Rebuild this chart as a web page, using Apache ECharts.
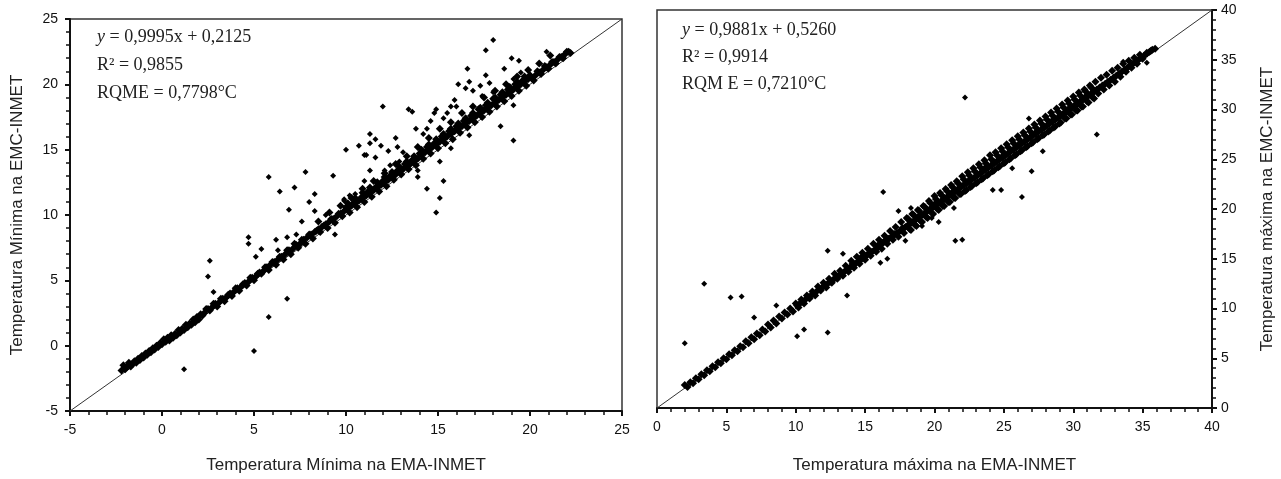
<!DOCTYPE html>
<html><head><meta charset="utf-8">
<script src="https://cdn.jsdelivr.net/npm/echarts@6/dist/echarts.min.js"></script>
<style>html,body{margin:0;padding:0;background:#fff}#c{width:1281px;height:479px}</style>
</head><body><div id="c"></div>
<script>
// ---------- DATA ----------
const minAxisTicks = [-5, 0, 5, 10, 15, 20, 25];
const maxAxisTicks = [0, 5, 10, 15, 20, 25, 30, 35, 40];
const minIdentity = [[-5, -5], [25, 25]];
const maxIdentity = [[0, 0], [40, 40]];

const minBand = [
[-2.2,-1.9],[-2.1,-1.5],[-2.0,-1.8],[-1.9,-1.6],[-1.8,-1.3],[-1.7,-1.6],[-1.6,-1.4],[-1.5,-1.2],[-1.4,-1.3],[-1.3,-1.0],
[-1.2,-1.1],[-1.1,-0.8],[-1.0,-0.9],[-0.9,-0.6],[-0.8,-0.7],[-0.7,-0.4],[-0.6,-0.5],[-0.5,-0.2],[-0.4,-0.3],[-0.3,0.0],
[-0.2,-0.1],[-0.1,0.2],[0.0,0.1],[0.1,0.5],[0.2,0.3],[0.3,0.6],[0.4,0.4],[0.5,0.8],[0.6,0.6],[0.7,0.9],
[0.8,0.8],[0.9,1.2],[1.0,1.0],[1.1,1.3],[1.2,1.2],[1.3,1.6],[1.4,1.4],[1.5,1.7],[1.6,1.6],[1.7,2.0],
[1.8,1.8],[1.9,2.2],[2.0,2.0],[2.2,2.3],[2.4,2.8],[2.6,2.7],[2.8,3.2],[3.0,3.0],[3.2,3.6],[3.4,3.4],
[3.6,3.9],[3.8,3.8],[4.0,4.4],[4.2,4.2],[4.4,4.7],[4.6,4.6],[4.8,5.2],[5.0,5.0],[5.2,5.5],[5.4,5.5],
[5.6,6.0],[5.8,5.8],[6.0,6.4],[6.2,6.2],[6.4,6.8],[6.6,6.6],[6.8,7.3],[7.0,7.0],[7.2,7.8],[7.4,7.5],
[7.6,8.1],[7.8,7.8],[8.0,8.5],[8.2,8.2],[8.4,8.8],[8.6,8.7],[8.8,9.2],[9.0,9.0],[9.2,9.7],[9.4,9.4],
[9.6,10.1],[9.8,9.9],[10.0,10.6],[10.2,10.2],[10.4,10.9],[10.6,10.6],[10.8,11.3],[11.0,11.0],[11.2,11.8],[11.4,11.4],
[11.6,12.1],[11.8,11.8],[12.0,12.6],[12.2,12.2],[12.4,13.0],[12.6,12.7],[12.8,13.4],[13.0,13.1],[13.2,13.9],[13.4,13.5],
[13.6,14.2],[13.8,13.8],[14.0,14.7],[14.2,14.3],[14.4,15.2],[14.6,14.7],[14.8,15.5],[15.0,15.1],[15.2,16.0],[15.4,15.5],
[15.6,16.4],[15.8,15.8],[16.0,16.8],[16.2,16.3],[16.4,17.2],[16.6,16.7],[16.8,17.6],[17.0,17.1],[17.2,18.1],[17.4,17.5],
[17.6,18.4],[17.8,17.9],[18.0,18.9],[18.2,18.3],[18.4,19.2],[18.6,18.7],[18.8,19.6],[19.0,19.1],[19.2,20.0],[19.4,19.5],
[19.6,20.3],[19.8,19.9],[20.0,20.7],[20.2,20.3],[20.4,21.0],[20.6,20.8],[20.8,21.4],[21.0,21.2],[21.2,21.7],[21.4,21.6],
[21.6,22.1],[21.8,22.0],[22.0,22.5],[22.2,22.4],
[8.5,9.5],[9.1,10.2],[9.7,10.7],[10.3,11.3],[10.9,12.0],[11.5,12.6],[12.1,13.2],[12.7,13.9],[13.3,14.5],[13.9,15.2],
[14.5,15.9],[15.1,16.6],[15.7,17.1],[16.3,17.8],[16.9,18.3],[17.5,19.0],[18.1,19.5],[18.7,20.0],[19.3,20.6],[19.9,21.1],
[20.5,21.6],[21.1,22.2]
];
const minBandMid = [
[2.1,2.4],[2.3,2.5],[2.5,2.8],[2.7,2.9],[2.9,3.2],[3.1,3.3],[3.3,3.6],[3.5,3.7],[3.7,4.0],[3.9,4.1],
[4.1,4.4],[4.3,4.5],[4.5,4.8],[4.7,4.9],[4.9,5.2],[5.1,5.3],[5.3,5.6],[5.5,5.7],[5.7,6.0],[5.9,6.2],
[6.1,6.4],[6.3,6.6],[6.5,6.8],[6.7,7.0],[6.9,7.3],[7.1,7.4],[7.3,7.7],[7.5,7.8],[7.7,8.1],[7.9,8.3],
[8.1,8.5],[8.3,8.7],[8.5,8.9],[8.7,9.1],[8.9,9.3],[9.1,9.5],[9.3,9.7],[9.5,9.9],[9.7,10.1],[9.9,10.3],
[10.1,10.5],[10.3,10.7],[10.5,10.9],[10.7,11.1],[10.9,11.3],[11.1,11.5],[11.3,11.7],[11.5,11.9],[11.7,12.1],[11.9,12.3],
[12.1,12.5],[12.3,12.7],[12.5,12.9],[12.7,13.1],[12.9,13.3],[13.1,13.5],[13.3,13.7],[13.5,13.9],[13.7,14.1],[13.9,14.3],
[14.1,14.6],[14.3,14.8],[14.5,15.0],[14.7,15.2],[14.9,15.4],[15.1,15.6],[15.3,15.8],[15.5,16.0],[15.7,16.2],[15.9,16.4],
[16.1,16.6],[16.3,16.8],[16.5,17.0],[16.7,17.2],[16.9,17.4],[17.1,17.6],[17.3,17.8],[17.5,18.0],[17.7,18.2],[17.9,18.4],
[18.1,18.6],[18.3,18.8],[18.5,19.0],[18.7,19.2],[18.9,19.4],[19.1,19.6],[19.3,19.8],[19.5,20.0],[19.7,20.2],[19.9,20.4],
[20.1,20.5],[20.3,20.7],[20.5,20.9],[20.7,21.1],[20.9,21.3],[21.1,21.5],[21.3,21.7],[21.5,21.9],[21.7,22.1],[21.9,22.3],
[22.1,22.5],
[10.1,10.9],[10.5,11.3],[10.9,11.7],[11.3,12.1],[11.7,12.5],[12.1,12.9],[12.5,13.3],[12.9,13.7],[13.3,14.1],[13.7,14.5],
[14.1,15.0],[14.5,15.4],[14.9,15.8],[15.3,16.2],[15.7,16.6],[16.1,17.0],[16.5,17.4],[16.9,17.8],[17.3,18.2],[17.7,18.6],
[18.1,19.0],[18.5,19.4],[18.9,19.8],[19.3,20.2],[19.7,20.6]
];
const minOutliers = [
[1.2,-1.8],[5.0,-0.4],[5.8,2.2],[6.8,3.6],[2.6,6.5],[2.5,5.3],[2.8,4.1],[4.7,7.8],[4.7,8.3],[5.4,7.4],
[5.1,6.8],[6.2,8.1],[6.8,8.3],[7.3,8.5],[6.3,7.3],[5.8,12.9],[6.4,11.8],[7.2,12.1],[7.8,13.3],[6.9,10.4],
[7.6,9.5],[8.0,11.0],[8.3,10.3],[8.3,11.6],[9.3,13.0],[9.4,8.5],[11.0,12.6],[10.0,15.0],[11.0,14.6],[9.9,11.2],
[8.9,10.0],[18.0,23.4],[17.6,22.6],[19.0,22.0],[19.4,21.8],[20.9,22.5],[16.6,21.2],[17.6,20.7],[18.6,21.2],[19.5,20.9],
[16.1,20.0],[16.7,20.2],[16.5,19.7],[17.3,19.9],[16.9,19.5],[17.8,20.1],[18.0,19.4],[17.4,19.1],[19.1,20.4],[15.9,18.8],
[15.7,18.3],[16.0,18.3],[14.9,18.1],[14.8,17.8],[15.3,17.4],[15.5,17.8],[12.0,18.3],[13.4,18.1],[13.6,17.9],[14.6,17.2],
[14.4,16.6],[13.8,16.6],[14.2,16.2],[11.3,16.2],[11.6,15.8],[11.3,15.5],[11.9,15.3],[12.7,15.9],[10.7,15.3],[11.1,14.6],
[11.6,14.4],[12.3,14.9],[12.8,15.2],[13.1,14.8],[11.3,13.4],[12.1,13.4],[19.1,18.4],[19.1,15.7],[18.4,16.8],[16.7,16.1],
[15.7,15.1],[15.1,14.1],[15.3,12.6],[14.4,12.0],[15.1,11.3],[14.9,10.2],[13.9,12.9],[13.9,13.4],[9.9,11.1],[10.2,11.5],
[10.5,11.6],[12.4,13.8],[12.9,14.1]
];

const maxBand = [
[2.0,2.3],[2.2,2.1],[2.4,2.6],[2.6,2.5],[2.8,3.0],[3.0,2.9],[3.2,3.4],[3.4,3.3],[3.6,3.8],[3.8,3.7],
[4.0,4.2],[4.2,4.1],[4.4,4.6],[4.6,4.5],[4.8,5.0],[5.0,4.9],[5.2,5.4],[5.4,5.3],[5.6,5.8],[5.8,5.7],
[6.0,6.2],[6.2,6.1],[6.4,6.7],[6.6,6.5],[6.8,7.1],[7.0,6.9],[7.2,7.5],[7.4,7.3],[7.6,7.9],[7.8,7.7],
[8.0,8.4],[8.2,8.1],[8.4,8.8],[8.6,8.5],[8.8,9.2],[9.0,9.0],[9.2,9.6],[9.4,9.4],[9.6,10.0],[9.8,9.7],
[10.0,10.5],[10.2,10.1],[10.4,10.9],[10.6,10.5],[10.8,11.3],[11.0,11.0],[11.2,11.7],[11.4,11.3],[11.6,12.2],[11.8,11.8],
[12.0,12.6],[12.2,12.1],[12.4,13.0],[12.6,12.6],[12.8,13.5],[13.0,13.0],[13.2,13.8],[13.4,13.3],[13.6,14.3],[13.8,13.7],
[14.0,14.8],[14.2,14.1],[14.4,15.2],[14.6,14.5],[14.8,15.6],[15.0,14.9],[15.2,16.0],[15.4,15.3],[15.6,16.5],[15.8,15.7],
[16.0,16.9],[16.2,16.0],[16.4,17.3],[16.6,16.5],[16.8,17.8],[17.0,16.9],[17.2,18.2],[17.4,17.2],[17.6,18.7],[17.8,17.6],
[18.0,19.1],[18.2,18.0],[18.4,19.5],[18.6,18.4],[18.8,19.9],[19.0,18.8],[19.2,20.3],[19.4,19.2],[19.6,20.8],[19.8,19.6],
[20.0,21.3],[20.2,20.0],[20.4,21.6],[20.6,20.3],[20.8,22.0],[21.0,20.7],[21.2,22.4],[21.4,21.1],[21.6,22.8],[21.8,21.5],
[22.0,23.3],[22.2,21.8],[22.4,23.7],[22.6,22.2],[22.8,24.1],[23.0,22.6],[23.2,24.5],[23.4,23.0],[23.6,24.9],[23.8,23.4],
[24.0,25.4],[24.2,23.8],[24.4,25.7],[24.6,24.2],[24.8,26.1],[25.0,24.6],[25.2,26.5],[25.4,25.0],[25.6,26.9],[25.8,25.4],
[26.0,27.3],[26.2,25.8],[26.4,27.7],[26.6,26.2],[26.8,28.1],[27.0,26.6],[27.2,28.5],[27.4,27.0],[27.6,28.9],[27.8,27.4],
[28.0,29.3],[28.2,27.8],[28.4,29.7],[28.6,28.2],[28.8,30.1],[29.0,28.6],[29.2,30.5],[29.4,29.1],[29.6,30.9],[29.8,29.5],
[30.0,31.3],[30.2,29.9],[30.4,31.7],[30.6,30.3],[30.8,32.0],[31.0,30.8],[31.2,32.4],[31.4,31.2],[31.6,32.8],[31.8,31.6],
[32.0,33.2],[32.2,32.0],[32.4,33.5],[32.6,32.4],[32.8,33.9],[33.0,32.8],[33.2,34.2],[33.4,33.3],[33.6,34.6],[33.8,33.8],
[34.0,34.9],[34.2,34.2],[34.4,35.2],[34.6,34.6],[34.8,35.5],[35.0,35.1],[35.3,35.7],[35.6,35.9],[35.9,36.1],
[14.1,14.5],[14.7,15.1],[15.3,15.6],[15.9,16.3],[16.5,16.9],[17.1,17.5],[17.7,18.1],[18.3,18.7],[18.9,19.3],[19.5,19.9],
[20.1,20.6],[20.7,21.1],[21.3,21.7],[21.9,22.3],[22.5,22.9],[23.1,23.5],[23.7,24.2],[24.3,24.7],[24.9,25.3],[25.5,25.9],
[26.1,26.5],[26.7,27.1],[27.3,27.7],[27.9,28.3],[28.5,28.9],[29.1,29.5],[29.7,30.1],[30.3,30.7],[30.9,31.3],[31.5,31.9]
];
const maxBandMid = [
[10.1,10.3],[10.3,10.5],[10.5,10.7],[10.7,10.9],[10.9,11.1],[11.1,11.3],[11.3,11.5],[11.5,11.7],[11.7,11.9],[11.9,12.1],
[12.1,12.3],[12.3,12.5],[12.5,12.7],[12.7,12.9],[12.9,13.1],[13.1,13.3],[13.3,13.5],[13.5,13.7],[13.7,13.9],[13.9,14.1],
[14.1,14.3],[14.3,14.5],[14.5,14.7],[14.7,14.9],[14.9,15.1],[15.1,15.3],[15.3,15.5],[15.5,15.7],[15.7,15.9],[15.9,16.1],
[16.1,16.4],[16.3,16.6],[16.5,16.8],[16.7,17.0],[16.9,17.2],[17.1,17.4],[17.3,17.6],[17.5,17.8],[17.7,18.0],[17.9,18.2],
[18.1,18.4],[18.3,18.6],[18.5,18.8],[18.7,19.0],[18.9,19.2],[19.1,19.4],[19.3,19.6],[19.5,19.8],[19.7,20.0],[19.9,20.2],
[20.1,20.4],[20.3,20.6],[20.5,20.8],[20.7,21.0],[20.9,21.2],[21.1,21.4],[21.3,21.6],[21.5,21.8],[21.7,22.0],[21.9,22.2],
[22.1,22.4],[22.3,22.6],[22.5,22.8],[22.7,23.0],[22.9,23.2],[23.1,23.4],[23.3,23.6],[23.5,23.8],[23.7,24.0],[23.9,24.2],
[24.1,24.4],[24.3,24.6],[24.5,24.8],[24.7,25.0],[24.9,25.2],[25.1,25.4],[25.3,25.6],[25.5,25.8],[25.7,26.0],[25.9,26.2],
[26.1,26.4],[26.3,26.6],[26.5,26.8],[26.7,27.0],[26.9,27.2],[27.1,27.4],[27.3,27.6],[27.5,27.8],[27.7,28.0],[27.9,28.2],
[28.1,28.4],[28.3,28.6],[28.5,28.8],[28.7,29.0],[28.9,29.2],[29.1,29.4],[29.3,29.6],[29.5,29.8],[29.7,30.0],[29.9,30.2],
[30.1,30.4],[30.3,30.6],[30.5,30.8],[30.7,31.0],[30.9,31.2],[31.1,31.4],[31.3,31.6],[31.5,31.8],[31.7,32.0],[31.9,32.2],
[32.1,32.4],[32.3,32.6],[32.5,32.8],[32.7,33.0],[32.9,33.2],[33.1,33.4],[33.3,33.6],[33.5,33.8],[33.7,34.0],[33.9,34.2],
[34.1,34.4],[34.3,34.6],[34.5,34.8],[34.7,35.0],[34.9,35.2],[35.1,35.4],[35.3,35.6],[35.5,35.8],[35.7,36.0],
[18.1,19.0],[18.5,19.4],[18.9,19.8],[19.3,20.2],[19.7,20.6],[20.1,21.0],[20.5,21.4],[20.9,21.8],[21.3,22.2],[21.7,22.6],
[22.1,23.0],[22.5,23.4],[22.9,23.8],[23.3,24.2],[23.7,24.6],[24.1,25.0],[24.5,25.4],[24.9,25.8],[25.3,26.2],[25.7,26.6],
[26.1,27.0],[26.5,27.4],[26.9,27.8],[27.3,28.2],[27.7,28.6],[28.1,29.0],[28.5,29.4],[28.9,29.8],[29.3,30.2],[29.7,30.6],
[30.1,31.0],[30.5,31.4],[30.9,31.8],[31.3,32.2],
[18.3,17.9],[18.7,18.3],[19.1,18.7],[19.5,19.1],[19.9,19.5],[20.3,19.9],[20.7,20.3],[21.1,20.7],[21.5,21.1],[21.9,21.5],
[22.3,21.9],[22.7,22.3],[23.1,22.7],[23.5,23.1],[23.9,23.5],[24.3,23.9],[24.7,24.3],[25.1,24.7],[25.5,25.1],[25.9,25.5],
[26.3,25.9],[26.7,26.3],[27.1,26.7],[27.5,27.1],[27.9,27.5],[28.3,27.9],[28.7,28.3],[29.1,28.7],[29.5,29.1],[29.9,29.5],
[30.3,29.9],[30.7,30.3],[31.1,30.7],[31.5,31.1]
];
const maxOutliers = [
[2.0,6.5],[3.4,12.5],[5.3,11.1],[6.1,11.2],[7.0,9.1],[8.6,10.3],[10.1,7.2],[10.6,7.9],[12.3,7.6],[13.7,11.3],
[12.3,15.8],[13.4,15.5],[16.3,21.7],[16.1,14.6],[16.6,15.0],[17.4,19.8],[17.9,16.8],[18.3,20.1],[20.3,18.7],[21.4,20.1],
[21.5,16.8],[19.8,19.1],[19.1,18.3],[22.2,31.2],[22.0,16.9],[31.7,27.5],[26.8,29.1],[27.8,25.8],[25.6,24.1],[27.0,23.8],
[24.2,21.9],[24.8,21.9],[26.3,21.2],[35.3,34.7],[33.6,34.8]
];

const minLabels = ['y = 0,9995x + 0,2125', 'R² = 0,9855', 'RQME = 0,7798°C'];
const maxLabels = ['y = 0,9881x + 0,5260', 'R² = 0,9914', 'RQM E = 0,7210°C'];
const minXName = 'Temperatura Mínima na EMA-INMET';
const minYName = 'Temperatura Mínima na EMC-INMET';
const maxXName = 'Temperatura máxima na EMA-INMET';
const maxYName = 'Temperatura máxima na EMC-INMET';

// ---------- CHART ----------
const chart = echarts.init(document.getElementById('c'), null, {renderer: 'canvas'});
const labelStyle = {color: '#111', fontSize: 14, fontFamily: 'Liberation Sans, Arial, sans-serif'};
const nameStyle = {color: '#222', fontSize: 17, fontFamily: 'Liberation Sans, Arial, sans-serif'};

function axis(gi, min, max, name, pos, gap, margin) {
  return {
    gridIndex: gi, type: 'value', min: min, max: max, interval: 5, position: pos,
    name: name, nameLocation: 'middle', nameGap: gap, nameTextStyle: nameStyle,
    nameRotate: (pos === 'left' || pos === 'right') ? 90 : 0,
    axisLine: {show: true, onZero: false, lineStyle: {color: '#111', width: 2}},
    axisTick: {show: true, inside: false, length: 5, lineStyle: {color: '#111', width: 2}},
    minorTick: {show: true, splitNumber: 5, length: 4, lineStyle: {color: '#111', width: 1.5}},
    splitLine: {show: false}, minorSplitLine: {show: false},
    axisLabel: Object.assign({margin: margin}, labelStyle)
  };
}

const serifFont = '18px "Liberation Serif", "Times New Roman", serif';
function textLines(lines, x, y0, dy) {
  return lines.map((t, i) => {
    if (i === 0) {
      return {type: 'text', left: x, top: y0, style: {
        text: '{i|y}{n|' + t.slice(1) + '}', font: serifFont, fill: '#222',
        rich: {
          i: {fontStyle: 'italic', fontSize: 18, fontFamily: 'Liberation Serif', color: '#222'},
          n: {fontSize: 18, fontFamily: 'Liberation Serif', color: '#222'}
        }
      }};
    }
    return {type: 'text', left: x, top: y0 + i * dy, style: {text: t, font: serifFont, fill: '#222'}};
  });
}

const markStyle = {color: '#000', opacity: 1};
function scatter(ax, data, size) {
  return {type: 'scatter', xAxisIndex: ax, yAxisIndex: ax, data: data, symbol: 'diamond',
          symbolSize: size, itemStyle: markStyle, z: 2, silent: true};
}
chart.setOption({
  animation: false,
  backgroundColor: '#fff',
  grid: [
    {left: 70, top: 19, width: 552, height: 393, show: true, borderColor: '#333', borderWidth: 1.5, backgroundColor: 'transparent'},
    {left: 657, top: 10, width: 555, height: 399, show: true, borderColor: '#333', borderWidth: 1.5, backgroundColor: 'transparent'}
  ],
  xAxis: [
    axis(0, minAxisTicks[0], minAxisTicks[minAxisTicks.length - 1], minXName, 'bottom', 46, 12),
    axis(1, maxAxisTicks[0], maxAxisTicks[maxAxisTicks.length - 1], maxXName, 'bottom', 49, 12)
  ],
  yAxis: [
    axis(0, minAxisTicks[0], minAxisTicks[minAxisTicks.length - 1], minYName, 'left', 44, 12),
    axis(1, maxAxisTicks[0], maxAxisTicks[maxAxisTicks.length - 1], maxYName, 'right', 47, 9)
  ],
  graphic: textLines(minLabels, 97, 28, 28).concat(textLines(maxLabels, 682, 21, 27)),
  series: [
    {type: 'line', xAxisIndex: 0, yAxisIndex: 0, data: minIdentity, symbol: 'none', silent: true,
     lineStyle: {color: '#333', width: 1}, z: 1},
    {type: 'line', xAxisIndex: 1, yAxisIndex: 1, data: maxIdentity, symbol: 'none', silent: true,
     lineStyle: {color: '#333', width: 1}, z: 1},
    scatter(0, minBand, 8), scatter(0, minBandMid, 8), scatter(0, minOutliers, 6),
    scatter(1, maxBand, 8), scatter(1, maxBandMid, 8), scatter(1, maxOutliers, 6)
  ]
});
</script>
</body></html>
